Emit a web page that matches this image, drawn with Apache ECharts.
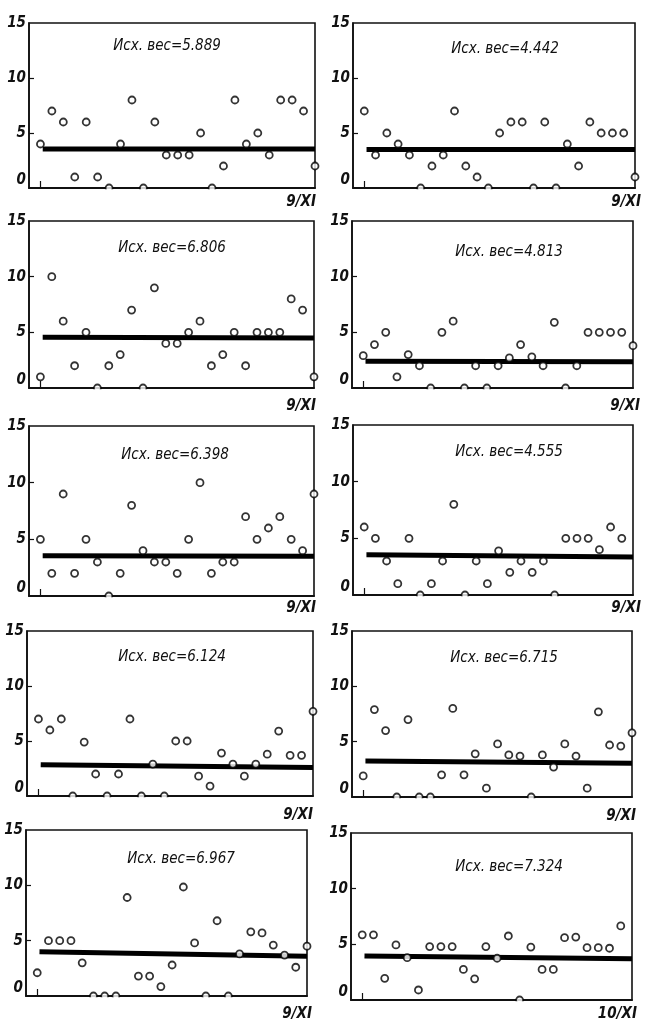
<!DOCTYPE html>
<html>
<head>
<meta charset="utf-8">
<script src="https://cdn.jsdelivr.net/npm/echarts@6/dist/echarts.min.js"></script>
<style>
  html, body { margin: 0; padding: 0; background: #fff; }
  #main { width: 646px; height: 1020px; }
</style>
</head>
<body>
<div id="main"></div>
<script>
// initial weights shown in each panel
const weights = ['5.889', '4.442', '6.806', '4.813', '6.398', '4.555', '6.124', '6.715', '6.967', '7.324'];
const dateLabels = ['9/XI', '9/XI', '9/XI', '9/XI', '9/XI', '9/XI', '9/XI', '9/XI', '9/XI', '10/XI'];
const yTicks = [0, 5, 10, 15];

// daily values (index = day)
const pts1 = [4, 7, 6, 1, 6, 1, 0, 4, 8, 0, 6, 3, 3, 3, 5, 0, 2, 8, 4, 5, 3, 8, 8, 7, 2];
const pts2 = [7, 3, 5, 4, 3, 0, 2, 3, 7, 2, 1, 0, 5, 6, 6, 0, 6, 0, 4, 2, 6, 5, 5, 5, 1];
const pts3 = [1, 10, 6, 2, 5, 0, 2, 3, 7, 0, 9, 4, 4, 5, 6, 2, 3, 5, 2, 5, 5, 5, 8, 7, 1];
const pts4 = [2.9, 3.9, 5, 1, 3, 2, 0, 5, 6, 0, 2, 0, 2, 2.7, 3.9, 2.8, 2, 5.9, 0, 2, 5, 5, 5, 5, 3.8];
const pts5 = [5, 2, 9, 2, 5, 3, 0, 2, 8, 4, 3, 3, 2, 5, 10, 2, 3, 3, 7, 5, 6, 7, 5, 4, 9];
const pts6 = [6, 5, 3, 1, 5, 0, 1, 3, 8, 0, 3, 1, 3.9, 2, 3, 2, 3, 0, 5, 5, 5, 4, 6, 5];
const pts7 = [7, 6, 7, 0, 4.9, 2, 0, 2, 7, 0, 2.9, 0, 5, 5, 1.8, 0.9, 3.9, 2.9, 1.8, 2.9, 3.8, 5.9, 3.7, 3.7, 7.7];
const pts8 = [1.9, 7.9, 6, 0, 7, 0, 0, 2, 8, 2, 3.9, 0.8, 4.8, 3.8, 3.7, 0, 3.8, 2.7, 4.8, 3.7, 0.8, 7.7, 4.7, 4.6, 5.8];
const pts9 = [2.1, 5, 5, 5, 3, 0, 0, 0, 8.9, 1.8, 1.8, 0.85, 2.8, 9.85, 4.8, 0, 6.8, 0, 3.8, 5.8, 5.7, 4.6, 3.7, 2.6, 4.5];
const pts10 = [5.85, 5.85, 1.95, 4.95, 3.8, 0.9, 4.8, 4.8, 4.8, 2.75, 1.9, 4.8, 3.75, 5.75, 0, 4.75, 2.75, 2.75, 5.6, 5.65, 4.7, 4.7, 4.65, 6.65];
const allPts = [pts1, pts2, pts3, pts4, pts5, pts6, pts7, pts8, pts9, pts10];

// the thick average line: value at its start and end
const meanStart = [3.55, 3.5, 4.55, 2.4, 3.55, 3.55, 2.85, 3.25, 4.0, 3.95];
const meanEnd   = [3.55, 3.5, 4.5, 2.35, 3.5, 3.35, 2.6, 3.05, 3.6, 3.7];
const meanFrom = 0.2, meanTo = 24;

// panel boxes: [left, top, right, bottom] in px
const boxes = [
  [29, 23, 315, 188], [353, 23, 635, 188],
  [29, 221, 314, 388], [352, 221, 633, 388],
  [29, 426, 314, 596], [353, 425, 633, 595],
  [27, 631, 313, 796], [352, 631, 632, 797],
  [26, 830, 307, 996], [351, 833, 632, 1000]
];
// title centres and date label anchors (right end)
const titlePos = [[167, 46], [505, 49], [172, 248], [509, 252], [175, 455], [509, 452], [172, 657], [504, 658], [181, 859], [509, 867]];
const datePos = [[316, 202], [641, 202], [316, 406], [640, 406], [316, 608], [641, 608], [313, 815], [636, 816], [312, 1014], [637, 1014]];

const FONT = '"Liberation Sans Narrow", "DejaVu Sans Condensed", "Liberation Sans", sans-serif';

const chart = echarts.init(document.getElementById('main'));

const grid = [], xAxis = [], yAxis = [], series = [], graphic = [];

boxes.forEach(function (b, i) {
  grid.push({
    left: b[0], top: b[1], width: b[2] - b[0], height: b[3] - b[1],
    show: true, borderColor: '#111', borderWidth: 1.6, backgroundColor: 'transparent'
  });
  xAxis.push({
    type: 'value', gridIndex: i, min: -1, max: 24,
    axisLine: { show: true, onZero: false, lineStyle: { color: '#111', width: 1.8 } },
    axisTick: { show: true, inside: true, length: 7, customValues: [0], lineStyle: { color: '#111', width: 1.2 } },
    axisLabel: { show: false },
    splitLine: { show: false }
  });
  yAxis.push({
    type: 'value', gridIndex: i, min: 0, max: 15, interval: 5,
    axisLine: { show: true, onZero: false, lineStyle: { color: '#111', width: 1.6 } },
    axisTick: { show: true, inside: true, length: 5, customValues: yTicks.slice(1, 3), lineStyle: { color: '#111', width: 1.2 } },
    axisLabel: {
      show: true, margin: 3, color: '#111', fontFamily: FONT, fontStyle: 'italic', fontWeight: 'bold', fontSize: 15,
      customValues: yTicks, verticalAlignMinLabel: 'bottom'
    },
    splitLine: { show: false }
  });
  series.push({
    type: 'line', xAxisIndex: i, yAxisIndex: i, z: 2,
    data: [[meanFrom, meanStart[i]], [meanTo, meanEnd[i]]],
    symbol: 'none', lineStyle: { color: '#000', width: 5 }, silent: true
  });
  series.push({
    type: 'scatter', xAxisIndex: i, yAxisIndex: i, z: 3,
    data: allPts[i].map(function (v, d) { return [d, v]; }),
    symbol: 'circle', symbolSize: 7,
    itemStyle: { color: '#fff', borderColor: '#000', borderWidth: 1.8 },
    silent: true
  });
  // hide the lower half of circles sitting on the zero line
  graphic.push({
    type: 'rect', z: 50, silent: true,
    shape: { x: b[0] - 2, y: b[3] + 1.2, width: b[2] - b[0] + 6, height: 5 },
    style: { fill: '#fff' }
  });
  graphic.push({
    type: 'text', z: 60, x: titlePos[i][0], y: titlePos[i][1],
    style: {
      text: 'Исх. вес=' + weights[i], fill: '#111',
      font: 'italic 15px ' + FONT, align: 'center', verticalAlign: 'middle'
    }
  });
  graphic.push({
    type: 'text', z: 60, x: datePos[i][0], y: datePos[i][1],
    style: {
      text: dateLabels[i], fill: '#111',
      font: 'italic bold 15px ' + FONT, align: 'right', verticalAlign: 'middle'
    }
  });
});

chart.setOption({
  backgroundColor: '#fff',
  animation: false,
  grid: grid,
  xAxis: xAxis,
  yAxis: yAxis,
  series: series,
  graphic: graphic
});
</script>
</body>
</html>
